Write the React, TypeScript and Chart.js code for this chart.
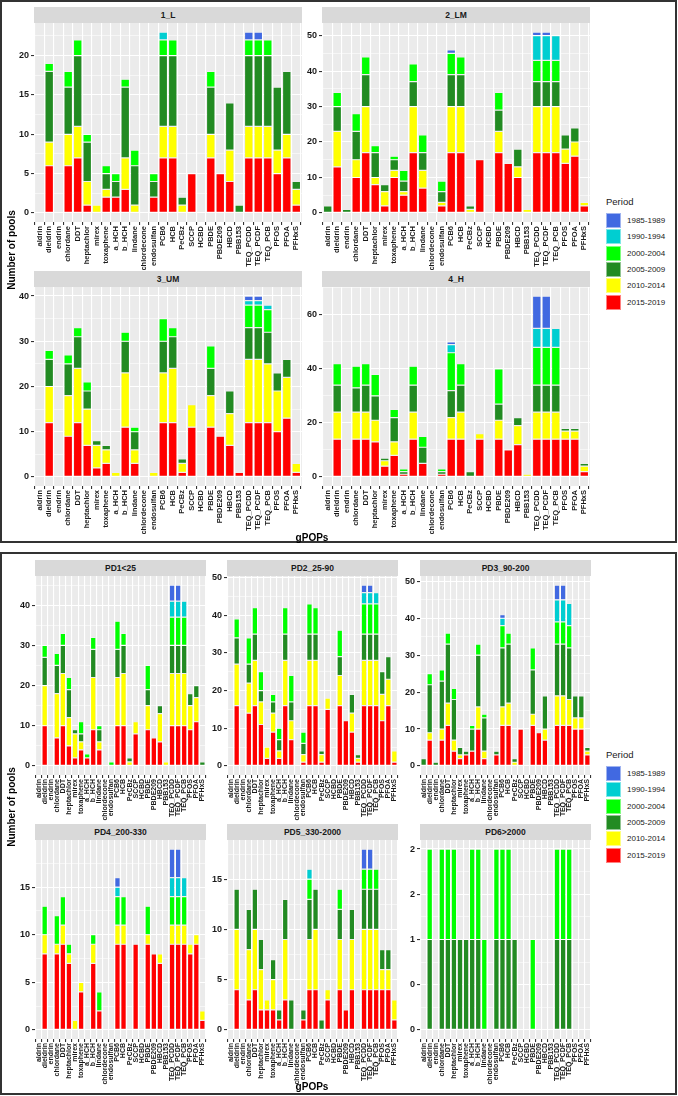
import React, { useEffect, useRef } from "react";
import { Chart, registerables } from "chart.js";

Chart.register(...registerables);

const FONT = "'Liberation Sans', Arial, Helvetica, sans-serif";

const CATEGORIES = ["aldrin","dieldrin","endrin","chlordane","DDT","heptachlor","mirex","toxaphene","a_HCH","b_HCH","lindane","chlordecone","endosulfan","PCB6","HCB","PeCBz","SCCP","HCBD","PBDE","PBDE209","HBCD","PBB153","TEQ_PCDD","TEQ_PCDF","TEQ_PCB","PFOS","PFOA","PFHxS"];

const PERIODS = ["1985-1989","1990-1994","2000-2004","2005-2009","2010-2014","2015-2019"];
const PERIOD_COLORS = ["#4169E1","#00CED1","#00FF00","#228B22","#FFFF00","#FF0000"];
// stacking order (bottom -> top): 2015-2019, 2010-2014, 2005-2009, 2000-2004, 1990-1994, 1985-1989
const STACK_ORDER = [5, 4, 3, 2, 1, 0];

// ---------- 1_L ----------
const L1_R  = [0,6,0,6,7,1,0,2,2,3, 0,0,2,7,7,0,5,0,7,5, 4,0,7,7,7,5,7,1];
const L1_Y  = [0,3,0,4,4,3,1,1,0,4, 1,0,0,4,4,1,0,0,3,0, 4,0,4,4,4,3,3,2];
const L1_DG = [0,9,0,6,9,5,0,2,2,9, 5,0,2,9,9,1,0,0,6,0, 6,1,9,9,9,8,8,1];
const L1_G  = [0,1,0,2,2,1,0,1,1,1, 2,0,1,2,2,0,0,0,2,0, 0,0,2,2,2,0,0,0];
const L1_C  = [0,0,0,0,0,0,0,0,0,0, 0,0,0,1,0,0,0,0,0,0, 0,0,0,0,0,0,0,0];
const L1_B  = [0,0,0,0,0,0,0,0,0,0, 0,0,0,0,0,0,0,0,0,0, 0,0,1,1,0,0,0,0];

// ---------- 2_LM ----------
const LM2_R  = [0,13,0,10,17,8,2,10,5,17, 7,0,2,17,17,0,15,0,17,14, 10,0,17,17,17,14,16,2];
const LM2_Y  = [0,10,0,5,13,2,4,2,1,13, 5,0,1,13,13,1,0,0,6,0, 3,1,13,13,13,4,4,1];
const LM2_DG = [2,7,1,8,9,7,2,3,3,7, 5,0,3,9,9,1,0,0,6,0, 5,0,7,7,7,4,4,0];
const LM2_G  = [0,4,0,5,5,2,0,1,3,5, 5,0,3,6,5,0,0,0,5,0, 0,0,6,6,6,0,0,0];
const LM2_C  = [0,0,0,0,0,0,0,0,0,0, 0,0,0,0,0,0,0,0,0,0, 0,0,7,7,7,0,0,0];
const LM2_B  = [0,0,0,0,0,0,0,0,0,0, 0,0,0,1,0,0,0,0,0,0, 0,0,1,1,0,0,0,0];

// ---------- 3_UM ----------
const UM3_R  = [0,12,0,9,12,7,2,3,0,11, 3,0,0,12,12,1,11,0,11,9, 7,1,12,12,12,10,13,1];
const UM3_Y  = [0,8,0,9,12,8,5,3,1,12, 3,0,1,11,12,2,5,0,7,0, 7,0,14,14,13,9,9,2];
const UM3_DG = [0,6,0,7,7,4,1,1,0,7, 4,0,0,7,7,1,0,0,6,0, 5,0,7,7,7,4,4,0];
const UM3_G  = [0,2,0,2,2,2,0,0,0,2, 1,0,0,5,2,0,0,0,5,0, 0,0,5,5,5,0,0,0];
const UM3_C  = [0,0,0,0,0,0,0,0,0,0, 0,0,0,0,0,0,0,0,0,0, 0,0,1,1,1,0,0,0];
const UM3_B  = [0,0,0,0,0,0,0,0,0,0, 0,0,0,0,0,0,0,0,0,0, 0,0,1,1,0,0,0,0];

// ---------- 4_H ----------
const H4_R  = [0,14,0,14,14,13,4,8,1,14, 5,0,1,14,14,0,14,0,14,10, 12,0,14,14,14,14,14,2];
const H4_Y  = [0,10,0,10,10,8,2,5,0,10, 0,0,0,8,10,0,2,0,7,0, 7,1,10,10,10,3,3,2];
const H4_DG = [0,10,0,9,10,9,1,9,1,10, 6,0,1,10,10,2,0,0,6,0, 3,0,10,10,10,1,1,1];
const H4_G  = [0,8,0,8,8,8,0,3,1,7, 4,0,1,14,8,0,0,0,13,0, 0,0,14,14,14,0,0,0];
const H4_C  = [0,0,0,0,0,0,0,0,0,0, 0,0,0,3,0,0,0,0,0,0, 0,0,7,7,7,0,0,0];
const H4_B  = [0,0,0,0,0,0,0,0,0,0, 0,0,0,1,0,0,0,0,0,0, 0,0,12,12,0,0,0,0];

// ---------- PD1<25 ----------
const PD1_R  = [0,10,0,7,10,5,2,4,2,9, 4,0,0,10,10,0,8,0,9,7, 6,0,10,10,10,9,11,0];
const PD1_Y  = [0,10,0,11,13,7,6,2,0,13, 2,0,0,12,13,1,3,0,6,0, 7,1,13,13,13,6,6,0];
const PD1_DG = [0,7,0,7,7,7,1,2,0,7, 3,0,0,7,7,1,0,0,4,0, 2,0,7,7,7,3,3,1];
const PD1_G  = [0,3,0,3,3,3,0,3,1,3, 1,0,1,7,3,0,0,0,6,0, 0,0,7,7,7,0,0,0];
const PD1_C  = [0,0,0,0,0,0,0,0,0,0, 0,0,0,0,0,0,0,0,0,0, 0,0,4,4,4,0,0,0];
const PD1_B  = [0,0,0,0,0,0,0,0,0,0, 0,0,0,0,0,0,0,0,0,0, 0,0,4,4,0,0,0,0];

// ---------- PD2_25-90 ----------
const PD2_R  = [0,16,0,14,16,11,2,9,2,16, 7,0,1,16,16,1,15,0,16,12, 9,1,16,16,16,12,16,1];
const PD2_Y  = [0,11,0,8,12,6,3,5,2,12, 5,0,2,12,12,2,3,0,8,0, 5,1,12,12,12,7,7,3];
const PD2_DG = [0,7,0,5,7,3,0,3,3,7, 5,0,3,7,7,1,0,0,5,0, 5,1,7,7,7,6,6,0];
const PD2_G  = [0,5,0,7,7,5,0,2,3,7, 7,0,3,8,7,0,0,0,7,0, 0,0,8,8,8,0,0,0];
const PD2_C  = [0,0,0,0,0,0,0,0,0,0, 0,0,0,0,0,0,0,0,0,0, 0,0,3,3,3,0,0,0];
const PD2_B  = [0,0,0,0,0,0,0,0,0,0, 0,0,0,0,0,0,0,0,0,0, 0,0,2,2,0,0,0,0];

// ---------- PD3_90-200 ----------
const PD3_R  = [0,7,0,7,11,4,2,3,4,10, 2,0,3,11,11,0,10,0,11,9, 7,0,11,11,11,10,10,3];
const PD3_Y  = [0,2,0,3,6,3,1,0,0,6, 2,0,0,5,6,1,0,0,3,0, 3,0,8,8,7,3,3,1];
const PD3_DG = [2,13,1,13,16,11,2,1,6,14, 9,0,1,16,16,1,0,0,12,0, 9,0,14,14,14,6,6,1];
const PD3_G  = [0,3,0,3,3,3,0,0,1,3, 1,0,0,6,3,0,0,0,6,0, 0,0,6,6,6,0,0,0];
const PD3_C  = [0,0,0,0,0,0,0,0,0,0, 0,0,0,2,0,0,0,0,0,0, 0,0,6,6,6,0,0,0];
const PD3_B  = [0,0,0,0,0,0,0,0,0,0, 0,0,0,1,0,0,0,0,0,0, 0,0,4,4,0,0,0,0];

// ---------- PD4_200-330 ----------
const PD4_R  = [0,8,0,8,9,7,0,4,0,7, 2,0,0,9,9,0,9,0,9,8, 7,0,9,9,9,8,9,1];
const PD4_Y  = [0,2,0,1,2,1,1,1,0,2, 0,0,0,2,2,0,0,0,1,0, 1,0,2,2,2,1,1,1];
const PD4_DG = [0,0,0,0,0,0,0,0,0,0, 0,0,0,0,0,0,0,0,0,0, 0,0,0,0,0,0,0,0];
const PD4_G  = [0,3,0,3,3,1,0,0,0,1, 2,0,0,3,3,0,0,0,3,0, 0,0,3,3,3,0,0,0];
const PD4_C  = [0,0,0,0,0,0,0,0,0,0, 0,0,0,1,0,0,0,0,0,0, 0,0,2,2,2,0,0,0];
const PD4_B  = [0,0,0,0,0,0,0,0,0,0, 0,0,0,1,0,0,0,0,0,0, 0,0,3,3,0,0,0,0];

// ---------- PD5_330-2000 ----------
const PD5_R  = [0,4,0,3,4,2,2,2,1,3, 0,0,1,4,4,0,3,0,4,2, 4,0,4,4,4,4,4,1];
const PD5_Y  = [0,6,0,5,6,4,1,3,0,6, 0,0,0,5,6,0,1,0,5,0, 5,0,6,6,6,2,2,2];
const PD5_DG = [0,4,0,4,4,3,0,2,1,4, 3,0,1,4,4,1,0,0,3,0, 3,0,4,4,4,2,2,0];
const PD5_G  = [0,0,0,0,0,0,0,0,0,0, 0,0,0,2,0,0,0,0,2,0, 0,0,2,2,2,0,0,0];
const PD5_C  = [0,0,0,0,0,0,0,0,0,0, 0,0,0,1,0,0,0,0,0,0, 0,0,0,0,0,0,0,0];
const PD5_B  = [0,0,0,0,0,0,0,0,0,0, 0,0,0,0,0,0,0,0,0,0, 0,0,2,2,0,0,0,0];

// ---------- PD6>2000 ----------
const PD6_R  = [0,0,0,0,0,0,0,0,0,0, 0,0,0,0,0,0,0,0,0,0, 0,0,0,0,0,0,0,0];
const PD6_Y  = [0,0,0,0,0,0,0,0,0,0, 0,0,0,0,0,0,0,0,0,0, 0,0,0,0,0,0,0,0];
const PD6_DG = [0,1,0,1,1,1,1,1,1,1, 0,0,1,1,1,1,0,0,0,0, 0,0,1,1,1,0,0,0];
const PD6_G  = [0,1,0,1,1,1,0,0,1,1, 1,0,1,1,1,0,0,0,1,0, 0,0,1,1,1,0,0,0];
const PD6_C  = [0,0,0,0,0,0,0,0,0,0, 0,0,0,0,0,0,0,0,0,0, 0,0,0,0,0,0,0,0];
const PD6_B  = [0,0,0,0,0,0,0,0,0,0, 0,0,0,0,0,0,0,0,0,0, 0,0,0,0,0,0,0,0];

// ---------- y tick values / labels ----------
const TICKS_L1 = [0, 5, 10, 15, 20];
const TICKS_LM2 = [0, 10, 20, 30, 40, 50];
const TICKS_UM3 = [0, 10, 20, 30, 40];
const TICKS_H4 = [0, 20, 40, 60];
const TICKS_PD1 = [0, 10, 20, 30, 40];
const TICKS_PD2 = [0, 10, 20, 30, 40, 50];
const TICKS_PD3 = [0, 10, 20, 30, 40, 50];
const TICKS_PD4 = [0, 5, 10, 15];
const TICKS_PD5 = [0, 5, 10, 15];
const TICKS_PD6 = [0, 0.5, 1, 1.5, 2];
const LABELS_PD6 = ["0", "0", "1", "2", "2"];

const bgPlugin = {
  id: "panelBg",
  beforeDraw(chart: any) {
    const { ctx, chartArea: a } = chart;
    ctx.save();
    ctx.fillStyle = "#EBEBEB";
    ctx.fillRect(a.left, a.top, a.right - a.left, a.bottom - a.top);
    ctx.restore();
  },
};

const AXW = 30;
const PADT = 10;
const PADR = 12;

function Panel(p: any) {
  const ref = useRef<HTMLCanvasElement>(null);
  const cw = AXW + p.w + PADR;
  const ch = PADT + p.h + p.axisH;
  useEffect(() => {
    if (!ref.current) return;
    const totals = CATEGORIES.map((_, i) => p.series.reduce((s: number, arr: number[]) => s + arr[i], 0));
    const maxV = Math.max(...totals);
    const yMax = maxV * 1.05;
    const yMin = -maxV * 0.05;
    const major = p.yTicks[1] - p.yTicks[0];
    const minor = major / 2;
    const isMajor = (v: number) => Math.abs(v / major - Math.round(v / major)) < 1e-6;
    const datasets = p.series.map((arr: number[], si: number) => ({
      label: PERIODS[STACK_ORDER[si]],
      data: arr.map((v, i) => ({ x: i, y: v === 0 ? null : v })),
      backgroundColor: PERIOD_COLORS[STACK_ORDER[si]],
      borderColor: "rgba(255,255,255,0.35)",
      borderWidth: 0.6,
      borderSkipped: false,
      barPercentage: 0.9,
      categoryPercentage: 1,
    }));
    const chart = new Chart(ref.current, {
      type: "bar",
      data: { datasets },
      options: {
        animation: false,
        responsive: false,
        devicePixelRatio: 1,
        layout: { padding: { top: PADT, right: PADR, left: 0, bottom: 0 } },
        plugins: { legend: { display: false }, tooltip: { enabled: false } },
        scales: {
          x: {
            type: "linear",
            stacked: true,
            min: -0.6,
            max: 27.6,
            offset: false,
            afterBuildTicks: (ax: any) => {
              ax.ticks = CATEGORIES.map((_, i) => ({ value: i }));
            },
            afterFit: (ax: any) => {
              ax.height = p.axisH;
            },
            ticks: {
              autoSkip: false,
              maxRotation: 90,
              minRotation: 90,
              padding: 1,
              color: "#1a1a1a",
              font: { family: FONT, size: p.xFont, weight: "bold" },
              callback: (v: any) => CATEGORIES[v] ?? "",
            },
            grid: { color: "#FFFFFF", lineWidth: 1.1, tickLength: 3, tickColor: "#333333", drawOnChartArea: true },
            border: { display: false },
          },
          y: {
            type: "linear",
            stacked: true,
            min: yMin,
            max: yMax,
            afterBuildTicks: (ax: any) => {
              const t: any[] = [];
              for (let k = 0; k * minor <= yMax + 1e-9; k++) t.push({ value: k * minor });
              ax.ticks = t;
            },
            afterFit: (ax: any) => {
              ax.width = AXW;
            },
            ticks: {
              padding: 2,
              color: "#1a1a1a",
              font: { family: FONT, size: 9, weight: "bold" },
              callback: (v: any) => {
                const idx = p.yTicks.findIndex((t: number) => Math.abs(t - v) < 1e-9);
                if (idx < 0) return "";
                return p.yLabels ? p.yLabels[idx] : String(p.yTicks[idx]);
              },
            },
            grid: {
              color: "#FFFFFF",
              lineWidth: (c: any) => (c.tick && isMajor(c.tick.value) ? 1.1 : 0.55),
              tickLength: 3,
              tickColor: (c: any) => (c.tick && isMajor(c.tick.value) ? "#333333" : "rgba(0,0,0,0)"),
            },
            border: { display: false },
          },
        },
      },
      plugins: [bgPlugin],
    } as any);
    return () => chart.destroy();
  }, []);
  return (
    <>
      <div
        style={{
          position: "absolute",
          left: p.left,
          top: p.top - 16,
          width: p.w,
          height: 16,
          background: "#D9D9D9",
          color: "#1A1A1A",
          fontFamily: FONT,
          fontWeight: "bold",
          fontSize: 8.5,
          display: "flex",
          alignItems: "center",
          justifyContent: "center",
        }}
      >
        {p.title}
      </div>
      <canvas
        ref={ref}
        width={cw}
        height={ch}
        style={{ position: "absolute", left: p.left - AXW, top: p.top - PADT, width: cw, height: ch }}
      />
    </>
  );
}

function Legend({ top }: { top: number }) {
  return (
    <>
      <div style={{ position: "absolute", left: 606, top: top - 7, fontFamily: FONT, fontSize: 9.5, color: "#1a1a1a", lineHeight: "12px" }}>
        Period
      </div>
      {PERIODS.map((lab, i) => (
        <React.Fragment key={lab}>
          <div
            style={{
              position: "absolute",
              left: 606,
              top: top + 10 + i * 16.3,
              width: 15,
              height: 15,
              background: PERIOD_COLORS[i],
              boxSizing: "border-box",
              border: "1px solid rgba(255,255,255,0.5)",
            }}
          />
          <div
            style={{
              position: "absolute",
              left: 627,
              top: top + 10 + i * 16.3,
              height: 15,
              lineHeight: "15px",
              fontFamily: FONT,
              fontSize: 8,
              color: "#1a1a1a",
            }}
          >
            {lab}
          </div>
        </React.Fragment>
      ))}
    </>
  );
}

function YTitle({ cy }: { cy: number }) {
  return (
    <div
      style={{
        position: "absolute",
        left: 11,
        top: cy,
        transform: "translate(-50%, -50%) rotate(-90deg)",
        fontFamily: FONT,
        fontWeight: "bold",
        fontSize: 10,
        whiteSpace: "nowrap",
        color: "#000",
      }}
    >
      Number of pools
    </div>
  );
}

function XTitle({ cy }: { cy: number }) {
  return (
    <div
      style={{
        position: "absolute",
        left: 312,
        top: cy,
        transform: "translate(-50%, -50%)",
        fontFamily: FONT,
        fontWeight: "bold",
        fontSize: 10,
        whiteSpace: "nowrap",
        color: "#000",
      }}
    >
      gPOPs
    </div>
  );
}

const TOP_PANELS = [
  { title: "1_L", left: 34, top: 23, series: [L1_R, L1_Y, L1_DG, L1_G, L1_C, L1_B], yTicks: TICKS_L1 },
  { title: "2_LM", left: 322, top: 23, series: [LM2_R, LM2_Y, LM2_DG, LM2_G, LM2_C, LM2_B], yTicks: TICKS_LM2 },
  { title: "3_UM", left: 34, top: 287, series: [UM3_R, UM3_Y, UM3_DG, UM3_G, UM3_C, UM3_B], yTicks: TICKS_UM3 },
  { title: "4_H", left: 322, top: 287, series: [H4_R, H4_Y, H4_DG, H4_G, H4_C, H4_B], yTicks: TICKS_H4 },
];

const BOTTOM_PANELS = [
  { title: "PD1<25", left: 35, top: 576, series: [PD1_R, PD1_Y, PD1_DG, PD1_G, PD1_C, PD1_B], yTicks: TICKS_PD1 },
  { title: "PD2_25-90", left: 227, top: 576, series: [PD2_R, PD2_Y, PD2_DG, PD2_G, PD2_C, PD2_B], yTicks: TICKS_PD2 },
  { title: "PD3_90-200", left: 420, top: 576, series: [PD3_R, PD3_Y, PD3_DG, PD3_G, PD3_C, PD3_B], yTicks: TICKS_PD3 },
  { title: "PD4_200-330", left: 35, top: 840, series: [PD4_R, PD4_Y, PD4_DG, PD4_G, PD4_C, PD4_B], yTicks: TICKS_PD4 },
  { title: "PD5_330-2000", left: 227, top: 840, series: [PD5_R, PD5_Y, PD5_DG, PD5_G, PD5_C, PD5_B], yTicks: TICKS_PD5 },
  { title: "PD6>2000", left: 420, top: 840, series: [PD6_R, PD6_Y, PD6_DG, PD6_G, PD6_C, PD6_B], yTicks: TICKS_PD6, yLabels: LABELS_PD6 },
];

export default function App() {
  return (
    <div style={{ position: "absolute", left: 0, top: 0, width: 678, height: 1096, background: "#FFFFFF", overflow: "hidden" }}>
      <div style={{ position: "absolute", left: 0, top: 0, width: 677, height: 543, border: "2px solid #333", boxSizing: "border-box" }} />
      <div style={{ position: "absolute", left: 0, top: 552, width: 677, height: 543, border: "2px solid #333", boxSizing: "border-box" }} />
      {TOP_PANELS.map((pp) => (
        <Panel key={pp.title} {...pp} w={268} h={199} axisH={48} xFont={7.5} />
      ))}
      {BOTTOM_PANELS.map((pp) => (
        <Panel key={pp.title} {...pp} w={171} h={199} axisH={46} xFont={7} />
      ))}
      <YTitle cy={250} />
      <YTitle cy={807} />
      <XTitle cy={537} />
      <XTitle cy={1086} />
      <Legend top={203} />
      <Legend top={756} />
    </div>
  );
}
